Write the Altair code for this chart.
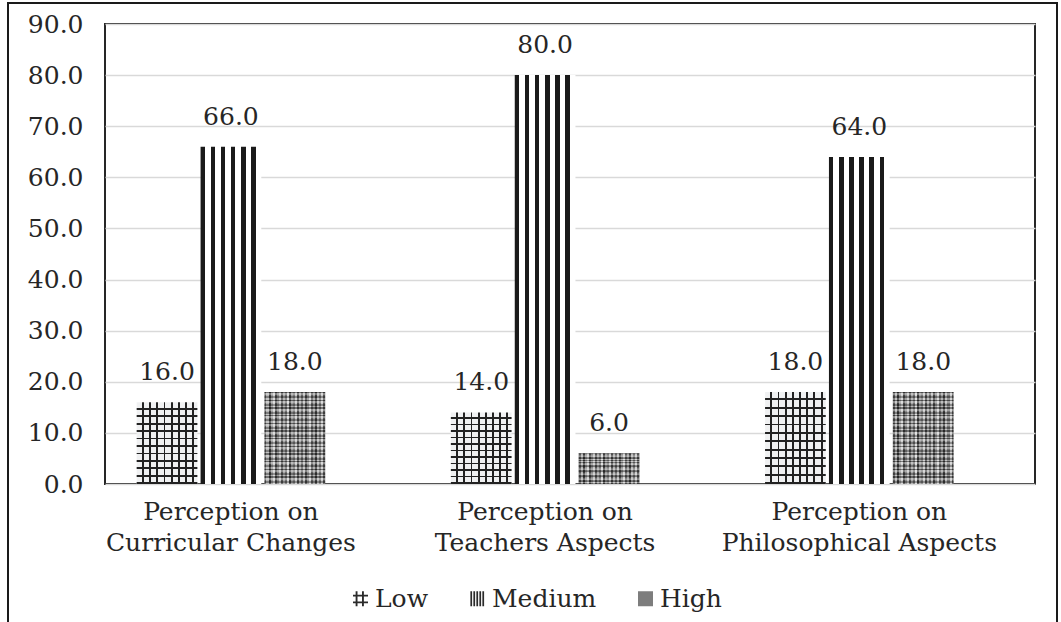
import altair as alt
import pandas as pd

# ---- data ----
categories = [
    "Perception on Curricular Changes",
    "Perception on Teachers Aspects",
    "Perception on Philosophical Aspects",
]
levels = ["Low", "Medium", "High"]
low = [16.0, 14.0, 18.0]
medium = [66.0, 80.0, 64.0]
high = [18.0, 6.0, 18.0]
y_ticks = [0, 10, 20, 30, 40, 50, 60, 70, 80, 90]

rows = []
for i, c in enumerate(categories):
    rows.append({"category": c, "level": "Low", "value": low[i]})
    rows.append({"category": c, "level": "Medium", "value": medium[i]})
    rows.append({"category": c, "level": "High", "value": high[i]})
df = pd.DataFrame(rows)

FONT = "DejaVu Serif"
TXT = "#262626"


def gradient(segments, horizontal=True):
    """Hard-edged stripe gradient built from (colour, relative width) pairs."""
    total = float(sum(w for _, w in segments))
    stops = []
    pos = 0.0
    for color, w in segments:
        stops.append({"offset": round(pos / total, 5), "color": color})
        pos += w
        stops.append({"offset": round(min(pos / total, 1.0), 5), "color": color})
    g = {"gradient": "linear", "stops": stops, "x1": 0, "y1": 0}
    if horizontal:
        g.update({"x2": 1, "y2": 0})
    else:
        g.update({"x2": 0, "y2": 1})
    return g


CLEAR = "rgba(0,0,0,0)"
medium_fill = gradient([("#1a1a1a", 4.3), ("#ffffff", 5.4)] * 6)
low_fill_v = gradient([("#f0f1f2", 5.0), ("#222222", 1.8)] * 8 + [("#f0f1f2", 3)])
low_fill_h = gradient([(CLEAR, 5.6), ("#222222", 1.7)] * 11, horizontal=False)
high_grays = ["#5a5a5a", "#b5b5b5", "#3c3c3c", "#9a9a9a", "#d0d0d0", "#4a4a4a",
              "#8a8a8a", "#c4c4c4", "#555555", "#a8a8a8", "#6e6e6e", "#d8d8d8",
              "#404040", "#9f9f9f", "#7a7a7a", "#c9c9c9", "#4f4f4f", "#b0b0b0",
              "#656565", "#bdbdbd", "#474747", "#939393", "#d2d2d2", "#5f5f5f",
              "#a2a2a2", "#3f3f3f", "#b8b8b8", "#747474", "#cbcbcb", "#575757"]
high_fill_v = gradient([(g, 1) for g in high_grays])
high_fill_h = gradient(
    [("rgba(0,0,0,0.4)", 1.2), ("rgba(255,255,255,0.3)", 1.5), (CLEAR, 1.0),
     ("rgba(0,0,0,0.3)", 1.6), ("rgba(255,255,255,0.2)", 1.1)] * 12,
    horizontal=False,
)

x_enc = alt.X(
    "category:N",
    sort=categories,
    scale=alt.Scale(domain=categories, paddingInner=0.4, paddingOuter=0.18, align=0.28),
    axis=alt.Axis(
        title=None, labelAngle=0, domain=False, ticks=False,
        labelFont=FONT, labelFontSize=25, labelColor=TXT,
        labelPadding=15, labelLineHeight=31, labelLimit=600,
        labelExpr="[slice(datum.label, 0, 13), slice(datum.label, 14)]",
    ),
)
xo_enc = alt.XOffset("level:N", sort=levels,
                     scale=alt.Scale(domain=levels, paddingInner=0.05, paddingOuter=0))
y_enc = alt.Y(
    "value:Q",
    scale=alt.Scale(domain=[0, 90], nice=False),
    axis=alt.Axis(
        title=None, values=y_ticks, format=".1f", domain=False, ticks=False,
        grid=True, gridColor="#d9d9d9", gridWidth=1.5,
        labelFont=FONT, labelFontSize=25, labelColor=TXT, labelPadding=22,
    ),
)

base = alt.Chart(df).encode(x=x_enc, xOffset=xo_enc, y=y_enc)


def level_bar(level, fill):
    return base.transform_filter(alt.datum.level == level).mark_bar(fill=fill, strokeWidth=0)


bars = [
    level_bar("Low", low_fill_v),
    level_bar("Low", low_fill_h),
    level_bar("Medium", medium_fill),
    level_bar("High", high_fill_v),
    level_bar("High", high_fill_h),
]

labels = base.mark_text(
    font=FONT, fontSize=25, color=TXT, baseline="alphabetic", dy=-22
).encode(text=alt.Text("value:Q", format=".1f"))

legend_paths = [
    "M-0.65,-1H-0.4V1H-0.65Z M0.2,-1H0.45V1H0.2Z M-1,-0.55H1V-0.3H-1Z M-1,0.35H1V0.6H-1Z",
    "M-0.95,-1H-0.72V1H-0.95Z M-0.55,-1H-0.32V1H-0.55Z M-0.15,-1H0.08V1H-0.15Z M0.25,-1H0.48V1H0.25Z M0.65,-1H0.88V1H0.65Z",
    "M-1,-1H1V1H-1Z",
]
leg = alt.Legend(
    title=None, orient="none", legendX=243, legendY=562, direction="horizontal",
    labelFont=FONT, labelFontSize=25, labelColor=TXT, labelOffset=2,
    symbolSize=225, symbolOpacity=1, symbolStrokeWidth=0, columnPadding=36,
)
legend_layer = base.mark_point(filled=True, opacity=0).encode(
    fill=alt.Fill("level:N", sort=levels,
                  scale=alt.Scale(domain=levels, range=["#2b2b2b", "#2b2b2b", "#7d7d7d"]),
                  legend=leg),
    shape=alt.Shape("level:N", sort=levels,
                    scale=alt.Scale(domain=levels, range=legend_paths),
                    legend=leg),
)

frame = alt.Chart(pd.DataFrame({"f": [0]})).mark_rect(
    fill=None, stroke="#1a1a1a", strokeWidth=2
).encode(x=alt.value(-97), x2=alt.value(952), y=alt.value(-21), y2=alt.value(640))

chart = alt.layer(*bars, labels, legend_layer, frame).properties(
    width=930,
    height=460,
    autosize=alt.AutoSizeParams(type="none"),
    padding={"left": 105, "top": 24, "right": 26, "bottom": 138},
    background="white",
).configure_view(stroke="#262626", strokeWidth=2)

chart.save("out.html", embed_options={"renderer": "svg", "actions": False})
